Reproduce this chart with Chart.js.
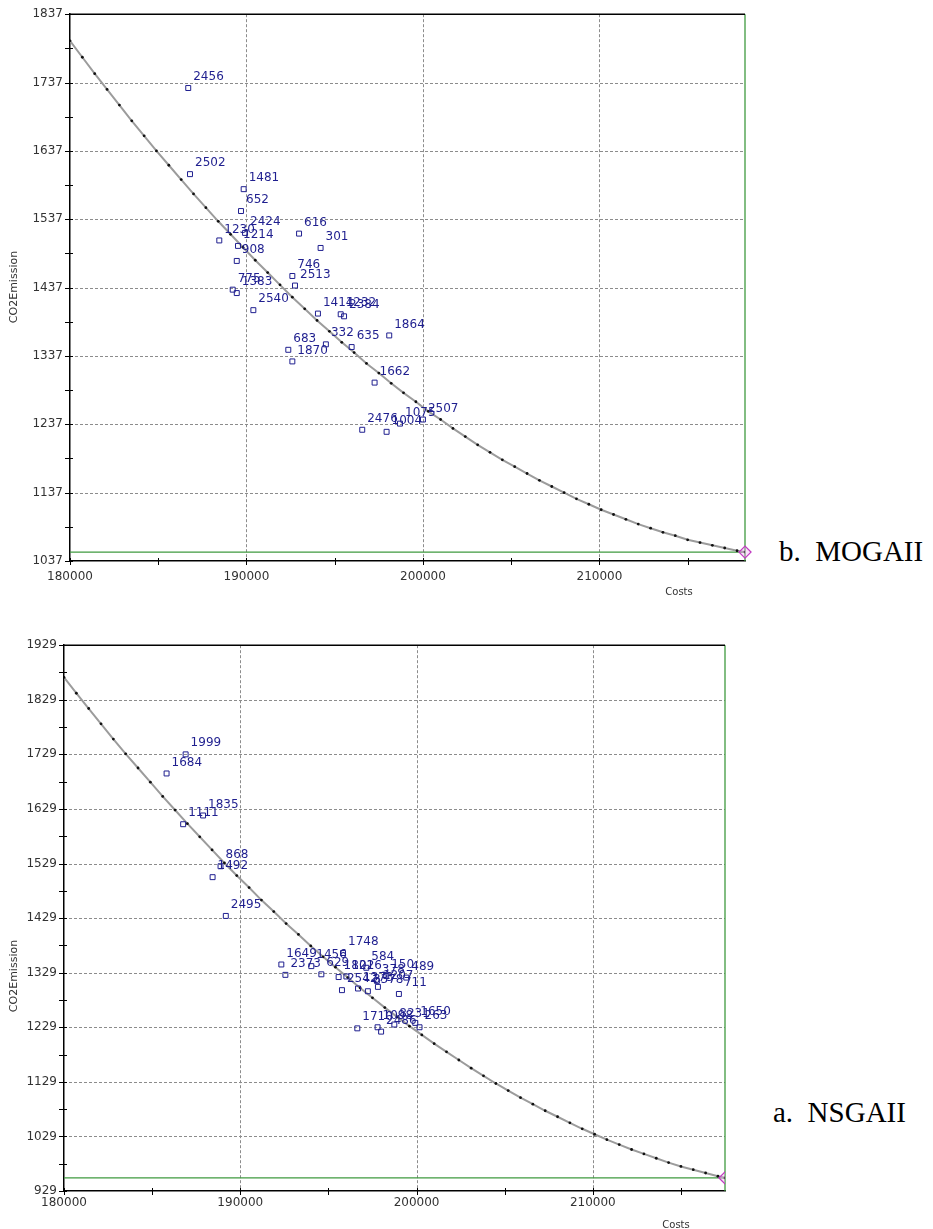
<!DOCTYPE html>
<html>
<head>
<meta charset="utf-8">
<script src="https://cdn.jsdelivr.net/npm/chart.js@4.4.1/dist/chart.umd.min.js"></script>
<style>
  html, body { margin: 0; padding: 0; background: #fff; }
  body { width: 933px; height: 1229px; position: relative; overflow: hidden; }
  .wrap { position: absolute; left: 0; }
  #w1 { top: 0; width: 760px; height: 610px; }
  #w2 { top: 631px; width: 760px; height: 598px; }
  .cap { position: absolute; font-family: "Liberation Serif", "Times New Roman", serif; font-size: 29px; line-height: 29px; color: #000; white-space: pre; }
</style>
</head>
<body>
<div class="wrap" id="w1"><canvas id="c1" width="760" height="610"></canvas></div>
<div class="wrap" id="w2"><canvas id="c2" width="760" height="598"></canvas></div>
<div class="cap" style="left:779px; top:537px;">b.  MOGAII</div>
<div class="cap" style="left:773px; top:1098px;">a.  NSGAII</div>
<script>
// ---------- Chart b: MOGAII ----------
const mogaXTicks = [180000, 185000, 190000, 195000, 200000, 205000, 210000, 215000];
const mogaXMajor = [180000, 190000, 200000, 210000];
const mogaYTicks = [1037, 1087, 1137, 1187, 1237, 1287, 1337, 1387, 1437, 1487, 1537, 1587, 1637, 1687, 1737, 1787, 1837];
const mogaYMajor = [1037, 1137, 1237, 1337, 1437, 1537, 1637, 1737, 1837];
const mogaXMin = 180000, mogaXMax = 218250, mogaYMin = 1037, mogaYMax = 1837;

const mogaLabels = ['2456','2502','1481','652','2424','1230','1214','908','616','301','746','2513','775','1383','2540','1414','1232','2384','1864','332','635','683','1870','1662','2476','1004','1075','2507'];
const mogaCosts = [186700,186800,189840,189690,189920,188460,189520,189450,192980,194200,192600,192750,189220,189450,190390,194050,195340,195530,198090,194500,195960,192370,192600,197260,196560,197940,198700,200000];
const mogaCO2 = [1729,1603,1581,1549,1517,1506,1498,1476,1516,1495,1454,1440,1434,1429,1404,1399,1398,1395,1367,1354,1350,1346,1329,1298,1229,1226,1238,1244];

const mogaFrontX = [180000,180700,181400,182100,182800,183500,184200,184900,185600,186300,
  187000,187700,188400,189100,189800,190500,191200,191900,192600,193300,
  194000,194700,195400,196100,196800,197500,198200,198900,199600,200300,
  201000,201700,202400,203100,203800,204500,205200,205900,206600,207300,
  208000,208700,209400,210100,210800,211500,212200,212900,213600,214300,
  215000,215700,216400,217100,217800,218250];
const mogaFrontY = [1798,1774,1750,1727,1704,1681,1659,1637,1616,1595,
  1574,1554,1534,1515,1496,1477,1459,1441,1423,1406,
  1389,1373,1357,1342,1326,1312,1297,1283,1270,1256,
  1244,1231,1219,1207,1196,1185,1175,1165,1155,1146,
  1137,1128,1120,1112,1105,1098,1091,1085,1079,1074,
  1068,1064,1060,1056,1052,1050];
const mogaRef = [218250, 1050];

// ---------- Chart a: NSGAII ----------
const nsgaXTicks = [180000, 185000, 190000, 195000, 200000, 205000, 210000, 215000];
const nsgaXMajor = [180000, 190000, 200000, 210000];
const nsgaYTicks = [929, 979, 1029, 1079, 1129, 1179, 1229, 1279, 1329, 1379, 1429, 1479, 1529, 1579, 1629, 1679, 1729, 1779, 1829, 1879, 1929];
const nsgaYMajor = [929, 1029, 1129, 1229, 1329, 1429, 1529, 1629, 1729, 1829, 1929];
const nsgaXMin = 180000, nsgaXMax = 217500, nsgaYMin = 929, nsgaYMax = 1929;

const nsgaLabels = ['1999','1684','1835','1111','868','1492','2495','1649','2373','1456','629','1748','1821','1026','2542','1373','3378','584','1207','150','378','489','711','1710','1098','2486','8231','1650','263'];
const nsgaCosts = [186900,185820,187890,186760,188880,188430,189180,192330,192560,194030,194600,195830,195580,196020,195770,196680,197240,197150,197810,198280,197750,199420,199000,196640,197790,197990,198740,199930,200170];
const nsgaCO2 = [1729,1694,1617,1601,1524,1504,1433,1344,1325,1341,1326,1365,1321,1322,1297,1300,1295,1338,1303,1323,1314,1320,1290,1227,1229,1221,1234,1237,1229];

const nsgaFrontX = [180000,180700,181400,182100,182800,183500,184200,184900,185600,186300,
  187000,187700,188400,189100,189800,190500,191200,191900,192600,193300,
  194000,194700,195400,196100,196800,197500,198200,198900,199600,200300,
  201000,201700,202400,203100,203800,204500,205200,205900,206600,207300,
  208000,208700,209400,210100,210800,211500,212200,212900,213600,214300,
  215000,215700,216400,217100,217500];
const nsgaFrontY = [1870,1841,1813,1785,1757,1730,1704,1678,1652,1627,
  1602,1578,1554,1530,1507,1485,1462,1441,1419,1399,
  1378,1358,1339,1320,1301,1283,1265,1248,1231,1215,
  1199,1184,1169,1154,1140,1126,1113,1100,1088,1076,
  1065,1054,1043,1033,1023,1014,1005,997,989,981,
  974,968,962,956,953];
const nsgaRef = [217500, 953];

const axisTitleY = 'CO2Emission';
const axisTitleX = 'Costs';

function decorPlugin(cfg) {
  return {
    id: 'decor_' + cfg.id,
    beforeDatasetsDraw(chart) {
      const { ctx, chartArea: a } = chart;
      const x = chart.scales.x, y = chart.scales.y;
      const line = (x1, y1, x2, y2) => { ctx.beginPath(); ctx.moveTo(x1, y1); ctx.lineTo(x2, y2); ctx.stroke(); };
      ctx.save();
      ctx.strokeStyle = '#8c8c8c';
      ctx.lineWidth = 1;
      ctx.setLineDash([3, 2]);
      cfg.xMajor.forEach(v => {
        if (v === cfg.xMin) return;
        const px = Math.round(x.getPixelForValue(v)) + 0.5;
        line(px, a.top, px, a.bottom);
      });
      cfg.yMajor.forEach(v => {
        if (v === cfg.yMin || v === cfg.yMax) return;
        const py = Math.round(y.getPixelForValue(v)) + 0.5;
        line(a.left, py, a.right, py);
      });
      ctx.setLineDash([]);
      const gx = x.getPixelForValue(cfg.ref[0]);
      const gy = y.getPixelForValue(cfg.ref[1]);
      ctx.strokeStyle = '#3f9a3f';
      ctx.lineWidth = 1.3;
      line(a.left, gy, gx, gy);
      line(gx, a.top, gx, a.bottom);
      ctx.strokeStyle = '#000';
      ctx.lineWidth = 1.5;
      line(a.left, a.top, gx, a.top);
      ctx.lineWidth = 1;
      cfg.xTicks.forEach(v => {
        const px = Math.round(x.getPixelForValue(v)) + 0.5;
        line(px, a.bottom - 3, px, a.bottom + 4);
      });
      cfg.yTicks.forEach(v => {
        const py = Math.round(y.getPixelForValue(v)) + 0.5;
        line(a.left - 5, py, a.left + 3, py);
      });
      ctx.restore();
    },
    afterDatasetsDraw(chart) {
      const ctx = chart.ctx;
      const meta = chart.getDatasetMeta(0);
      ctx.save();
      ctx.font = '12px "DejaVu Sans"';
      ctx.fillStyle = '#1f1f8f';
      ctx.textBaseline = 'middle';
      ctx.textAlign = 'left';
      meta.data.forEach((el, i) => {
        ctx.fillText(cfg.labels[i], el.x + 5, el.y - 11);
      });
      ctx.restore();
    },
    afterDraw(chart) {
      const ctx = chart.ctx;
      ctx.save();
      ctx.fillStyle = '#333';
      ctx.font = '11px "DejaVu Sans"';
      ctx.textAlign = 'center';
      ctx.textBaseline = 'middle';
      ctx.translate(14, cfg.yTitleY);
      ctx.rotate(-Math.PI / 2);
      ctx.fillText(axisTitleY, 0, 0);
      ctx.restore();
      ctx.save();
      ctx.fillStyle = '#333';
      ctx.font = '10px "DejaVu Sans"';
      ctx.textAlign = 'center';
      ctx.textBaseline = 'middle';
      ctx.fillText(axisTitleX, cfg.xTitleX, cfg.xTitleY);
      ctx.restore();
    }
  };
}

function build(canvasId, cfg) {
  const pts = cfg.costs.map((c, i) => ({ x: c, y: cfg.co2[i] }));
  const front = cfg.frontX.map((c, i) => ({ x: c, y: cfg.frontY[i] }));
  const tickFont = { family: 'DejaVu Sans', size: 12 };
  new Chart(document.getElementById(canvasId), {
    type: 'scatter',
    data: {
      datasets: [
        {
          data: pts,
          order: 0,
          pointStyle: 'rect',
          radius: 3.5,
          borderColor: '#1f1f8f',
          backgroundColor: 'rgba(255,255,255,0)',
          borderWidth: 1,
          showLine: false
        },
        {
          data: front,
          order: 2,
          showLine: true,
          borderColor: '#9c9c9c',
          borderWidth: 2,
          pointRadius: 1.4,
          pointBackgroundColor: '#111',
          pointBorderWidth: 0,
          tension: 0
        },
        {
          data: [{ x: cfg.ref[0], y: cfg.ref[1] }],
          order: 1,
          pointStyle: 'rectRot',
          radius: 6,
          borderColor: '#c03cc0',
          backgroundColor: 'rgba(240,170,240,0.35)',
          borderWidth: 1.3,
          clip: cfg.clipRef
        }
      ]
    },
    options: {
      responsive: false,
      animation: false,
      devicePixelRatio: 1,
      layout: { padding: { left: 0, top: cfg.padTop, right: cfg.padRight, bottom: 0 } },
      plugins: { legend: { display: false }, tooltip: { enabled: false } },
      scales: {
        x: {
          type: 'linear',
          position: 'bottom',
          min: cfg.xMin,
          max: cfg.xMax,
          afterBuildTicks: s => { s.ticks = cfg.xTicks.map(v => ({ value: v })); },
          afterFit: s => { s.height = cfg.xAxisH; },
          grid: { display: false, drawTicks: false },
          border: { display: true, color: '#000', width: 1.5 },
          ticks: {
            autoSkip: false, maxRotation: 0, minRotation: 0,
            padding: cfg.xPad, color: '#333', font: tickFont,
            callback: v => cfg.xMajor.includes(v) ? String(v) : ''
          }
        },
        y: {
          type: 'linear',
          position: 'left',
          min: cfg.yMin,
          max: cfg.yMax,
          afterBuildTicks: s => { s.ticks = cfg.yTicks.map(v => ({ value: v })); },
          afterFit: s => { s.width = cfg.yAxisW; },
          grid: { display: false, drawTicks: false },
          border: { display: true, color: '#000', width: 1.5 },
          ticks: {
            autoSkip: false, padding: 7, color: '#333', font: tickFont,
            callback: v => cfg.yMajor.includes(v) ? String(v) : ''
          }
        }
      }
    },
    plugins: [decorPlugin(cfg)]
  });
}

build('c1', {
  id: 'moga', labels: mogaLabels, costs: mogaCosts, co2: mogaCO2,
  frontX: mogaFrontX, frontY: mogaFrontY, ref: mogaRef,
  xTicks: mogaXTicks, xMajor: mogaXMajor, yTicks: mogaYTicks, yMajor: mogaYMajor,
  xMin: mogaXMin, xMax: mogaXMax, yMin: mogaYMin, yMax: mogaYMax,
  padTop: 13, padRight: 15, xAxisH: 49, yAxisW: 70, xPad: 9,
  yTitleY: 287, xTitleX: 679, xTitleY: 592, clipRef: false
});

build('c2', {
  id: 'nsga', labels: nsgaLabels, costs: nsgaCosts, co2: nsgaCO2,
  frontX: nsgaFrontX, frontY: nsgaFrontY, ref: nsgaRef,
  xTicks: nsgaXTicks, xMajor: nsgaXMajor, yTicks: nsgaYTicks, yMajor: nsgaYMajor,
  xMin: nsgaXMin, xMax: nsgaXMax, yMin: nsgaYMin, yMax: nsgaYMax,
  padTop: 13, padRight: 35, xAxisH: 38, yAxisW: 64, xPad: 5,
  yTitleY: 976 - 631, xTitleX: 676, xTitleY: 1225 - 631, clipRef: true
});
</script>
</body>
</html>
